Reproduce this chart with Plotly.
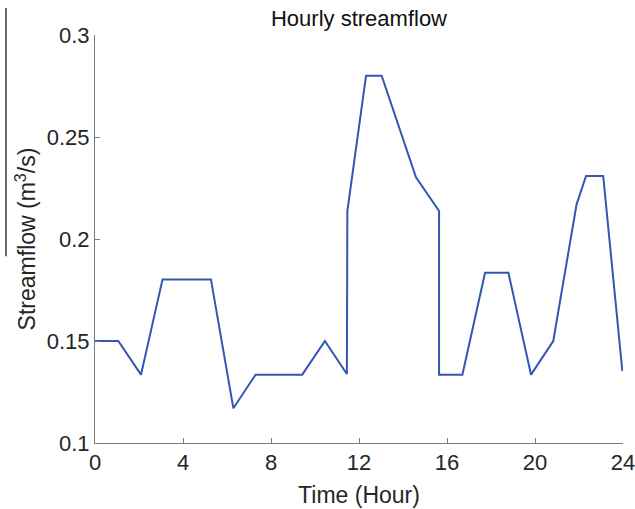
import plotly.graph_objects as go

time_hr = [0, 1.06, 2.09, 3.07, 5.27, 6.29, 7.3, 9.42, 10.45, 11.45, 11.47,
           12.32, 13.03, 14.59, 15.64, 15.64, 16.7, 17.73, 18.79, 19.82,
           20.83, 21.89, 22.32, 23.1, 23.97]
flow = [0.15, 0.15, 0.1335, 0.1802, 0.1802, 0.117, 0.1335, 0.1335, 0.15, 0.1338, 0.2137,
        0.28, 0.28, 0.2302, 0.2137, 0.1335, 0.1335, 0.1835, 0.1835, 0.1335,
        0.15, 0.217, 0.2309, 0.2309, 0.1353]

x_ticks = [0, 4, 8, 12, 16, 20, 24]
y_ticks = [0.1, 0.15, 0.2, 0.25, 0.3]
y_tick_labels = ["0.1", "0.15", "0.2", "0.25", "0.3"]

font_family = "Liberation Sans, Arial, sans-serif"
axis_col = "#7a7a7a"
text_col = "#262626"

fig = go.Figure()
fig.add_trace(go.Scatter(x=time_hr, y=flow, mode="lines",
                         line=dict(color="#3456b2", width=2),
                         showlegend=False, hoverinfo="skip"))

fig.update_layout(
    width=635, height=509,
    margin=dict(l=95, r=12, t=35, b=66),
    paper_bgcolor="white", plot_bgcolor="white",
    font=dict(family=font_family, color=text_col, size=22),
    title=dict(text="Hourly streamflow", x=0.5, xref="paper", xanchor="center",
               y=0.965, yref="container", yanchor="middle",
               font=dict(size=22, color="#111111")),
    xaxis=dict(range=[0, 24], tickvals=x_ticks, ticks="inside", ticklen=5,
               tickcolor=axis_col, showline=True, linecolor=axis_col, linewidth=1,
               showgrid=False, zeroline=False, mirror=False, automargin=False,
               ticklabeloverflow="allow",
               tickfont=dict(size=22, color=text_col),
               title=dict(text="Time (Hour)", font=dict(size=23, color=text_col), standoff=12)),
    yaxis=dict(range=[0.1, 0.3], tickvals=y_ticks, ticktext=y_tick_labels,
               ticks="inside", ticklen=5, tickcolor=axis_col, showline=True,
               linecolor=axis_col, linewidth=1, showgrid=False, zeroline=False,
               mirror=False, automargin=False, ticklabeloverflow="allow",
               tickfont=dict(size=22, color=text_col),
               title=dict(text="Streamflow (m<sup>3</sup>/s)",
                          font=dict(size=23, color=text_col), standoff=4)),
    shapes=[dict(type="line", xref="paper", yref="paper",
                 x0=-0.1686, x1=-0.1686, y0=0.458, y1=1.066,
                 line=dict(color="#333333", width=1.5))],
)

fig.write_html("out.html")
